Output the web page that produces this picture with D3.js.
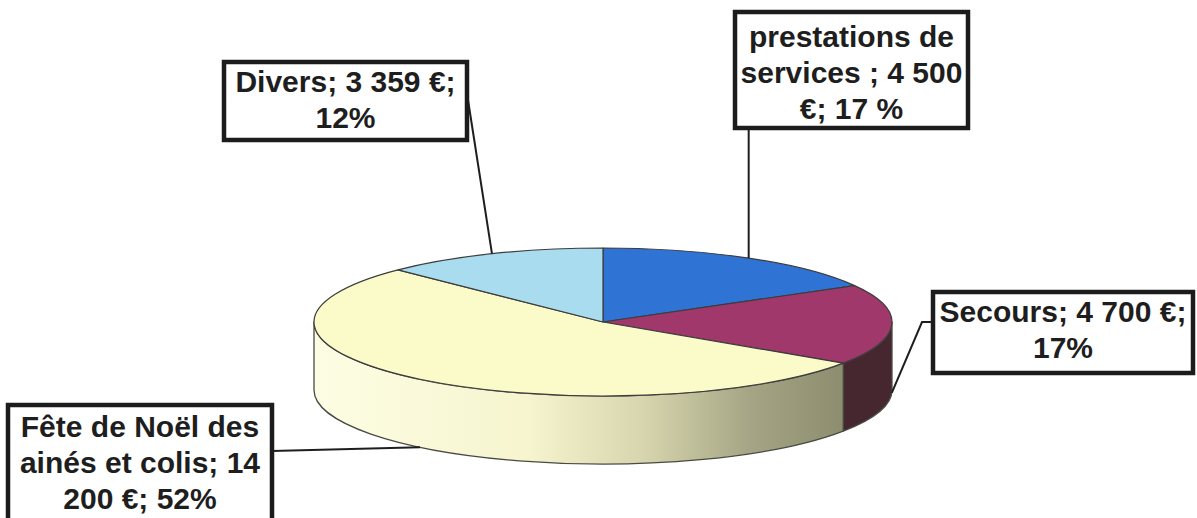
<!DOCTYPE html>
<html>
<head>
<meta charset="utf-8">
<script src="https://cdn.jsdelivr.net/npm/d3@7"></script>
<style>
  body { margin: 0; background: #fff; }
  text { font-family: "Liberation Sans", Arial, sans-serif; font-weight: bold; }
</style>
</head>
<body>
<div id="app"></div>
<script>
// data
const categories = ['prestations de services', 'Secours', 'Fête de Noël des ainés et colis', 'Divers']
const amounts = [4500, 4700, 14200, 3359]
const labelLines = [
  ['prestations de', 'services ; 4 500', '€; 17 %'],
  ['Secours; 4 700 €;', '17%'],
  ['Fête de Noël des', 'ainés et colis; 14', '200 €; 52%'],
  ['Divers; 3 359 €;', '12%']
]

const topColors = ['#2f73d5', '#a1386b', '#fafbc8', '#aadcf0']
const sideColors = ['#1f4f96', '#47272f', 'url(#yellowSide)', '#7fb0c4']

const size = { width: 1197, height: 518 }
const pieGeo = { cx: 603, cy: 322, rx: 289, ry: 74, depth: 68 }

// label boxes: x, y, w, h, first baseline, where the leader line leaves
const boxes = [
  { x: 735, y: 12, w: 233, h: 116, top: 47, anchor: 'bottom' },
  { x: 933, y: 292, w: 260, h: 81, top: 322, anchor: 'left' },
  { x: 8, y: 405, w: 264, h: 130, top: 437, anchor: 'right' },
  { x: 224, y: 62, w: 243, h: 78, top: 92, anchor: 'right' }
]
const lineHeight = 36

const svg = d3.select('#app').append('svg')
  .attr('width', size.width)
  .attr('height', size.height)

const defs = svg.append('defs')
const grad = defs.append('linearGradient')
  .attr('id', 'yellowSide')
  .attr('gradientUnits', 'userSpaceOnUse')
  .attr('x1', pieGeo.cx - pieGeo.rx).attr('x2', 846)
  .attr('y1', 0).attr('y2', 0)
const stops = [[0, '#fdfde4'], [0.4, '#f6f5cf'], [0.62, '#d6d5ad'], [0.82, '#a5a585'], [1, '#8c8d6e']]
grad.selectAll('stop').data(stops).enter().append('stop')
  .attr('offset', d => d[0])
  .attr('stop-color', d => d[1])

const pie = d3.pie().sort(null).value(d => d)
const arcsData = pie(amounts)

// point on the ellipse for an angle (0 = top, clockwise)
function pt(a, dy = 0) {
  return [pieGeo.cx + pieGeo.rx * Math.sin(a), pieGeo.cy - pieGeo.ry * Math.cos(a) + dy]
}

function sidePath(a0, a1) {
  const p0 = pt(a0), p1 = pt(a1)
  const b1 = pt(a1, pieGeo.depth), b0 = pt(a0, pieGeo.depth)
  return `M${p0}A${pieGeo.rx},${pieGeo.ry} 0 0 1 ${p1}L${b1}A${pieGeo.rx},${pieGeo.ry} 0 0 0 ${b0}Z`
}

// side walls (front half only)
const sides = arcsData.map((d, i) => ({
  i, a0: Math.max(d.startAngle, Math.PI / 2), a1: Math.min(d.endAngle, 3 * Math.PI / 2)
})).filter(d => d.a1 > d.a0)

svg.append('g').selectAll('path')
  .data(sides)
  .enter()
  .append('path')
  .attr('d', d => sidePath(d.a0, d.a1))
  .attr('fill', d => sideColors[d.i])
  .attr('stroke', '#4a4a44')
  .attr('stroke-width', 1.3)
  .attr('stroke-linejoin', 'round')

// top of the pie
const arc = d3.arc().innerRadius(0).outerRadius(pieGeo.rx)
svg.append('g')
  .attr('transform', `translate(${pieGeo.cx},${pieGeo.cy}) scale(1,${pieGeo.ry / pieGeo.rx})`)
  .selectAll('path')
  .data(arcsData)
  .enter()
  .append('path')
  .attr('d', arc)
  .attr('fill', (d, i) => topColors[i])
  .attr('stroke', '#3d3d3d')
  .attr('stroke-width', 1.2)
  .attr('vector-effect', 'non-scaling-stroke')
  .attr('stroke-linejoin', 'round')

// leader lines
function leader(d, i) {
  const mid = (d.startAngle + d.endAngle) / 2
  const b = boxes[i]
  const front = Math.cos(mid) < 0.1
  const end = pt(mid, front ? pieGeo.depth : 0)
  if (b.anchor === 'bottom') return [[end[0], b.y + b.h], end]
  if (b.anchor === 'left') {
    const y = b.top
    return [[b.x, y], [b.x - 11, y], end]
  }
  if (i === 3) return [[b.x + b.w + 1, b.y + 38], end]
  return [[b.x + b.w, b.y + 46], end]
}

svg.append('g').selectAll('path')
  .data(arcsData)
  .enter()
  .append('path')
  .attr('d', (d, i) => d3.line()(leader(d, i)))
  .attr('fill', 'none')
  .attr('stroke', '#1e1e1e')
  .attr('stroke-width', 2)

// label boxes
const labelG = svg.append('g').selectAll('g')
  .data(boxes)
  .enter()
  .append('g')

labelG.append('rect')
  .attr('x', d => d.x)
  .attr('y', d => d.y)
  .attr('width', d => d.w)
  .attr('height', d => d.h)
  .attr('fill', '#fff')
  .attr('stroke', '#1c1c1c')
  .attr('stroke-width', 4.5)

labelG.each(function (b, i) {
  d3.select(this).selectAll('text')
    .data(labelLines[i])
    .enter()
    .append('text')
    .attr('x', b.x + b.w / 2)
    .attr('y', (t, k) => b.top + k * lineHeight)
    .attr('text-anchor', 'middle')
    .attr('font-size', 30)
    .attr('fill', '#1e1e1e')
    .text(t => t)
})
</script>
</body>
</html>
